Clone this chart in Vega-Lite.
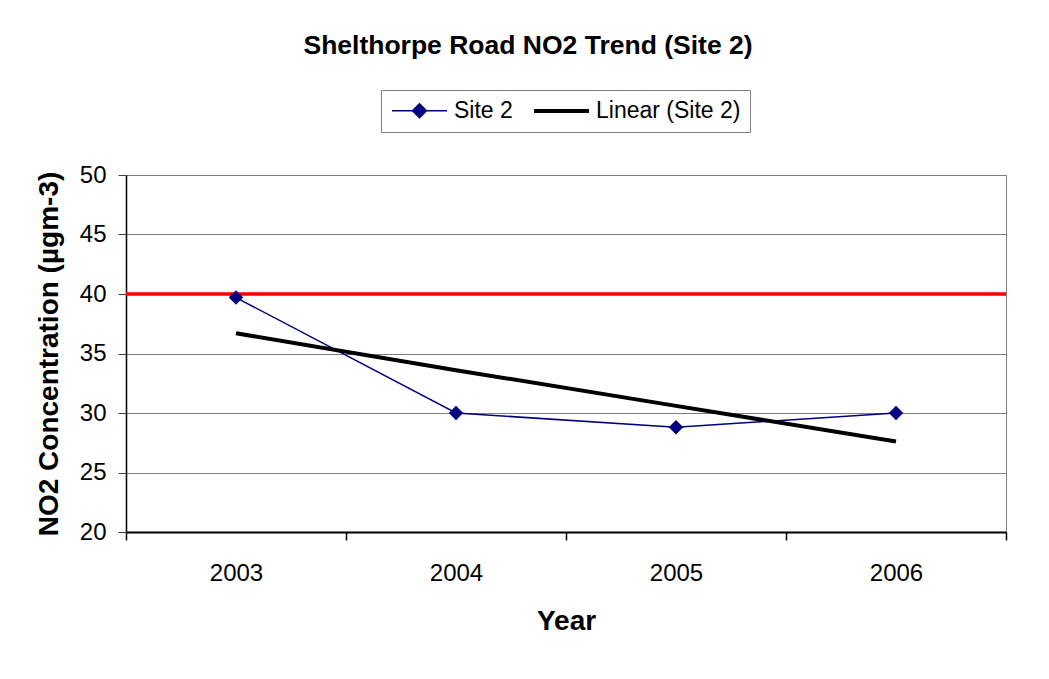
{
  "$schema": "https://vega.github.io/schema/vega-lite/v6.json",
  "width": 880,
  "height": 357,
  "autosize": "none",
  "padding": {"left": 126, "top": 175, "right": 43, "bottom": 147},
  "background": "white",
  "config": {
    "font": "Liberation Sans",
    "view": {"stroke": "#808080", "strokeWidth": 1}
  },
  "title": {
    "text": "Shelthorpe Road NO2 Trend (Site 2)",
    "fontSize": 26.5,
    "fontWeight": "bold",
    "color": "black",
    "anchor": "middle",
    "frame": "group",
    "dx": -38,
    "offset": 30
  },
  "datasets": {
    "site": [
      {"year": "2003", "value": 39.7, "series": "Site 2"},
      {"year": "2004", "value": 30.0, "series": "Site 2"},
      {"year": "2005", "value": 28.8, "series": "Site 2"},
      {"year": "2006", "value": 30.0, "series": "Site 2"},
      {"year": "2003", "value": 36.7, "series": "Linear (Site 2)"},
      {"year": "2004", "value": 33.6, "series": "Linear (Site 2)"},
      {"year": "2005", "value": 30.6, "series": "Linear (Site 2)"},
      {"year": "2006", "value": 27.6, "series": "Linear (Site 2)"}
    ],
    "limit": [{"limit": 40}]
  },
  "layer": [
    {
      "data": {"name": "limit"},
      "mark": {"type": "rule", "color": "#ff0000", "strokeWidth": 3.5},
      "encoding": {
        "y": {"field": "limit", "type": "quantitative", "scale": {"domain": [20, 50], "nice": false}}
      }
    },
    {
      "data": {"name": "site"},
      "mark": {"type": "line"},
      "encoding": {
        "x": {
          "field": "year", "type": "ordinal",
          "scale": {"type": "band", "paddingInner": 0, "paddingOuter": 0},
          "axis": {
            "title": "Year", "titleFontSize": 28, "titleFontWeight": "bold", "titleColor": "black", "titlePadding": 22,
            "labelAngle": 0, "labelFontSize": 24, "labelColor": "black", "labelPadding": 21,
            "tickSize": 8, "tickColor": "black", "tickBand": "extent", "tickWidth": 1.5,
            "domainColor": "black", "domainWidth": 2, "grid": false
          }
        },
        "y": {
          "field": "value", "type": "quantitative",
          "scale": {"domain": [20, 50], "nice": false},
          "axis": {
            "title": "NO2 Concentration (µgm-3)", "titleFontSize": 28, "titleFontWeight": "bold", "titleColor": "black", "titlePadding": 16,
            "values": [20, 25, 30, 35, 40, 45, 50],
            "labelFontSize": 24, "labelColor": "black", "labelPadding": 12,
            "tickSize": 8, "tickColor": "#404040",
            "domainColor": "black", "domainWidth": 1.5,
            "grid": true, "gridColor": "#808080", "gridWidth": 1
          }
        },
        "color": {
          "field": "series", "type": "nominal",
          "scale": {"domain": ["Site 2", "Linear (Site 2)"], "range": ["#000080", "#000000"]},
          "legend": {
            "orient": "none", "legendX": 255, "legendY": -85,
            "direction": "horizontal", "columns": 2, "title": null,
            "strokeColor": "#808080", "padding": 9, "fillColor": "white",
            "labelFontSize": 23, "labelColor": "black", "labelFont": "Liberation Sans",
            "symbolSize": 400, "labelOffset": 40, "columnPadding": 13,
            "encode": {
              "symbols": {
                "update": {
                  "shape": {"signal": "datum.value === 'Site 2' ? 'M-1,0H4.5M1.75,-0.7L2.45,0L1.75,0.7L1.05,0Z' : 'M-1,0H4.5'"},
                  "fill": {"signal": "datum.value === 'Site 2' ? '#000080' : 'transparent'"},
                  "stroke": {"signal": "datum.value === 'Site 2' ? '#000080' : '#000000'"},
                  "strokeWidth": {"signal": "datum.value === 'Site 2' ? 1.5 : 4"},
                  "opacity": {"value": 1}
                }
              }
            }
          }
        },
        "strokeWidth": {
          "field": "series", "type": "nominal",
          "scale": {"domain": ["Site 2", "Linear (Site 2)"], "range": [1.5, 4]},
          "legend": null
        }
      }
    },
    {
      "data": {"name": "site"},
      "transform": [{"filter": "datum.series === 'Site 2'"}],
      "mark": {"type": "point", "shape": "diamond", "filled": true, "size": 210, "color": "#000080", "opacity": 1},
      "encoding": {
        "x": {"field": "year", "type": "ordinal"},
        "y": {"field": "value", "type": "quantitative"}
      }
    }
  ]
}
